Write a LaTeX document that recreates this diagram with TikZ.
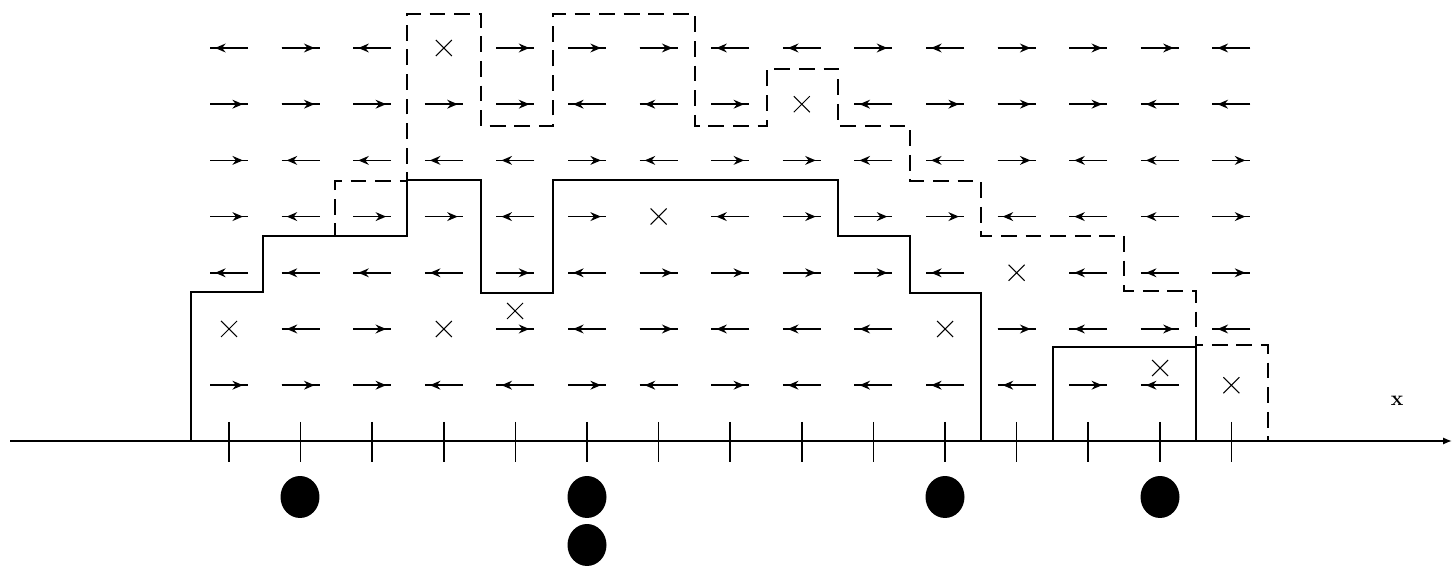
\documentclass[tikz,border=0pt]{standalone}
\usetikzlibrary{arrows.meta}
\begin{document}
\begin{tikzpicture}[
	x=0.02cm, y=-0.02cm,
	spin/.style={line width=1pt},
	spinhead/.style={line width=1pt, -{Stealth[length=6pt, width=5pt]}},
	hole/.style={line width=0.6pt},
	wall/.style={line width=1.3pt},
	trial/.style={line width=1.3pt, dash pattern=on 9pt off 5pt},
	site/.style={line width=0.9pt}
	]
	\useasboundingbox (0,0) rectangle (1454,573);
	\draw[site, -{Latex[length=5pt, width=4pt]}] (10,441) -- (1452,441);
	\node[font=\large\bfseries] (xlabel) at (1397,401) {x};
	\foreach \i in {0,...,14}
		\draw[site] (229+\i*71.6,422) -- (229+\i*71.6,462);
	\foreach \row [count=\j from 0] in {
		{-1,1,-1,0,1,1,1,-1,-1,1,-1,1,1,1,-1},
		{1,1,1,1,1,-1,-1,1,0,-1,1,1,1,-1,-1},
		{1,-1,-1,-1,-1,1,-1,1,1,-1,-1,1,-1,-1,1},
		{1,-1,1,1,-1,1,0,-1,1,1,1,-1,-1,-1,1},
		{-1,-1,-1,-1,1,-1,1,1,1,1,-1,0,-1,-1,1},
		{0,-1,1,0,1,-1,1,-1,-1,-1,0,1,-1,1,-1},
		{1,1,1,-1,-1,1,-1,1,-1,-1,-1,-1,1,-1,0}}{
		\foreach \d [count=\i from 0] in \row {
			\pgfmathsetmacro\px{229+\i*71.6}
			\pgfmathsetmacro\py{48+\j*56.2}
			\ifnum\d=0
				\draw[hole] (\px-8,\py-8) -- (\px+8,\py+8) (\px-8,\py+8) -- (\px+8,\py-8);
			\else
				\draw[spin] (\px-19,\py) -- (\px+19,\py);
				\draw[spinhead] (\px-19*\d,\py) -- (\px+14*\d,\py);
			\fi
		}
	}
	\foreach \cx/\cy in {515/311, 1160/368}
		\draw[hole] (\cx-8,\cy-8) -- (\cx+8,\cy+8) (\cx-8,\cy+8) -- (\cx+8,\cy-8);
	\draw[trial] (191,292) -- (263,292) |- (335,236) |- (407,181) |- (481,14) |- (553,126)
		|- (695,14) |- (767,126) |- (838,69) |- (910,126) |- (981,181) |- (1124,236)
		|- (1196,291) |- (1268,345) -- (1268,441);
	\draw[wall] (191,441) |- (263,292) |- (407,236) |- (481,180) |- (553,293) |- (838,180)
		|- (910,236) |- (981,293) -- (981,441);
	\draw[wall] (1053,441) |- (1196,347) -- (1196,441);
	\foreach \p in {(300,497), (587,497), (587,545), (945,497), (1160,497)}
		\fill \p ellipse [x radius=0.39cm, y radius=0.42cm];
\end{tikzpicture}
\end{document}
